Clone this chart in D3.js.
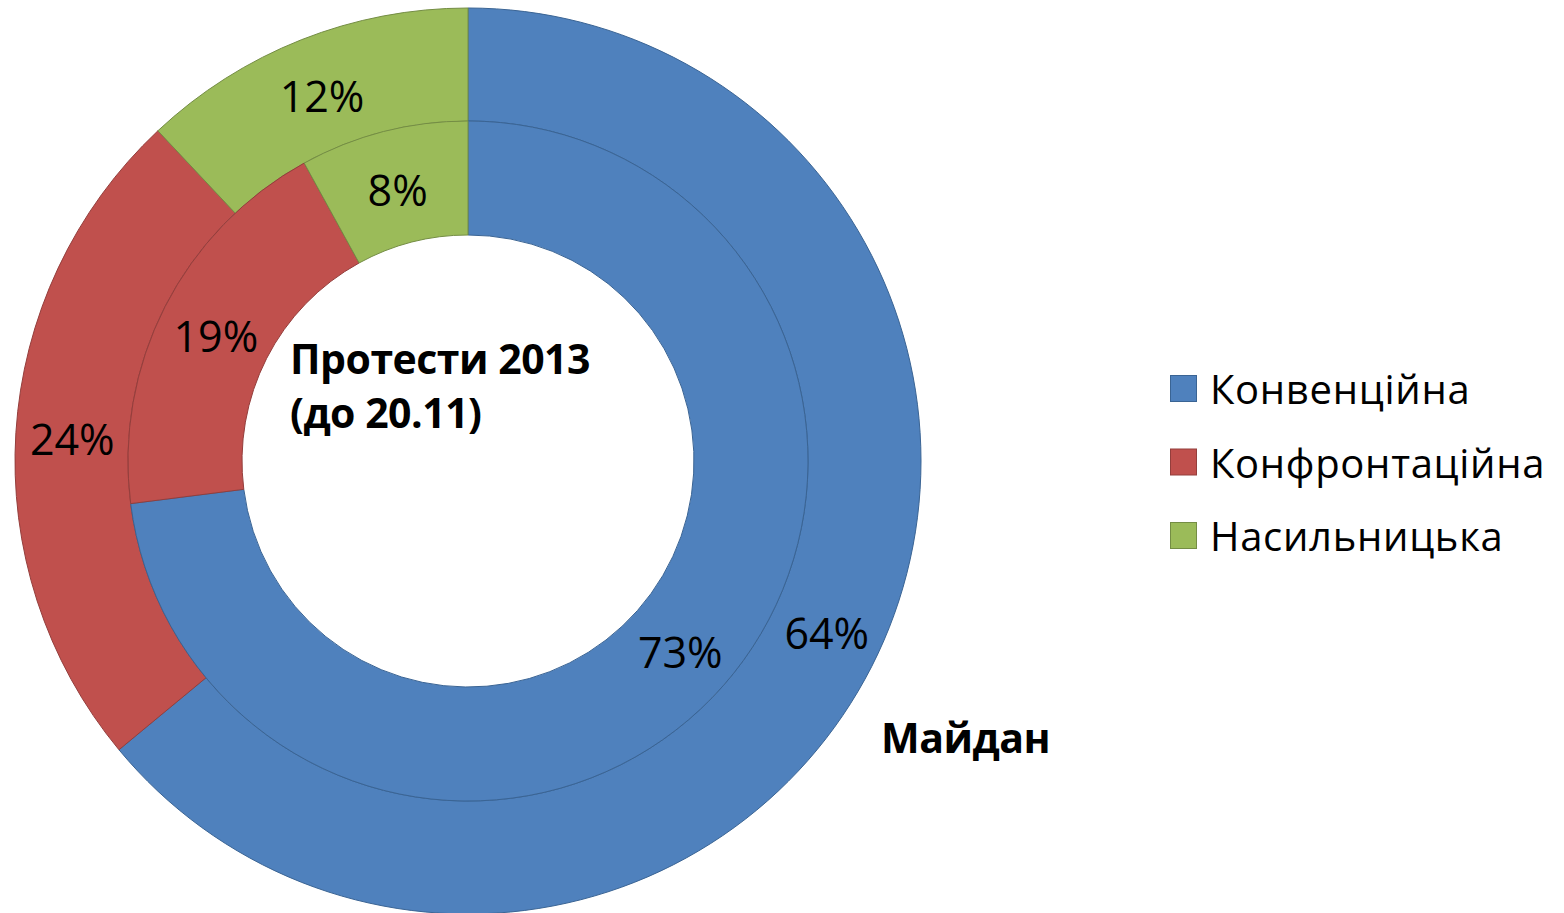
<html>
<head>
  <meta charset="utf-8">
  <style>
    body {
      margin: 0;
      background: #fff;
      font-family: "Open Sans", sans-serif;
    }

    .slice {
      stroke-width: 1px;
    }

    .pct {
      font-size: 43px;
      fill: #000;
    }

    .title {
      font-size: 41px;
      font-weight: bold;
      letter-spacing: -0.5px;
      fill: #000;
    }

    .legendtext {
      font-size: 40px;
      letter-spacing: 0.7px;
      fill: #000;
    }
  </style>
</head>
<body>
  <div class="chart"></div>

  <script src="https://cdn.jsdelivr.net/npm/d3@7"></script>
  <script>
    // data
    let categories = ["Конвенційна", "Конфронтаційна", "Насильницька"];
    let maidanValues = [64, 24, 12];      // outer ring
    let protestValues = [73, 19, 8];      // inner ring
    let colors = ["#4F81BD", "#C0504D", "#9BBB59"];
    let strokes = ["#3A6494", "#943E3C", "#748D44"];

    let width = 1564, height = 913;
    let cx = 468, cy = 461;
    let rOuter = 453, rMid = 340, rInner = 226;

    let svg = d3.select(".chart").append("svg")
      .attr("width", width)
      .attr("height", height);

    let g = svg.append("g")
      .attr("transform", "translate(" + cx + "," + cy + ")");

    let pie = d3.pie().sort(null).value(function (d) { return d; });

    function drawRing(values, r0, r1) {
      let arc = d3.arc().innerRadius(r0).outerRadius(r1);
      let arcs = pie(values);
      let ring = g.append("g");
      ring.selectAll("path")
        .data(arcs)
        .enter().append("path")
        .attr("class", "slice")
        .attr("d", arc)
        .attr("fill", function (d, i) { return colors[i]; })
        .attr("stroke", function (d, i) { return strokes[i]; });
      ring.selectAll("text")
        .data(arcs)
        .enter().append("text")
        .attr("class", "pct")
        .attr("transform", function (d) { return "translate(" + arc.centroid(d) + ")"; })
        .attr("text-anchor", "middle")
        .attr("dy", "0.45em")
        .text(function (d) { return d.data + "%"; });
    }

    drawRing(maidanValues, rMid, rOuter);
    drawRing(protestValues, rInner, rMid);

    // series titles
    svg.append("text")
      .attr("class", "title")
      .attr("x", 290).attr("y", 374)
      .text("Протести 2013");
    svg.append("text")
      .attr("class", "title")
      .attr("x", 290).attr("y", 428)
      .text("(до 20.11)");
    svg.append("text")
      .attr("class", "title")
      .attr("x", 881).attr("y", 753)
      .text("Майдан");

    // legend
    let legend = svg.append("g")
      .attr("transform", "translate(1170,375)");
    let items = legend.selectAll("g")
      .data(categories)
      .enter().append("g")
      .attr("transform", function (d, i) { return "translate(0," + (i * 73.5) + ")"; });
    items.append("rect")
      .attr("x", 0.5).attr("y", 0.5)
      .attr("width", 26).attr("height", 26)
      .attr("fill", function (d, i) { return colors[i]; })
      .attr("stroke", function (d, i) { return strokes[i]; })
      .attr("stroke-width", 1);
    items.append("text")
      .attr("class", "legendtext")
      .attr("x", 40).attr("y", 29)
      .text(function (d) { return d; });
  </script>
</body>
</html>
